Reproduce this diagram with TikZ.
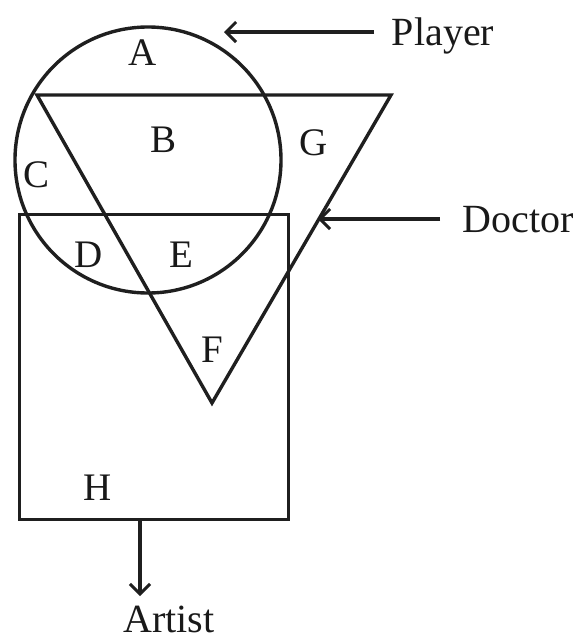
\documentclass[tikz,border=0pt]{standalone}
\usepackage{fontspec}
\setmainfont{Liberation Serif}
\usetikzlibrary{arrows.meta}
\begin{document}
\begin{tikzpicture}[x=1pt,y=-1pt,
  shape line/.style={draw=black!88,line width=3.4pt},
  lbl/.style={font=\fontsize{39}{42}\selectfont,anchor=base,inner sep=0pt,text=black!90},
  side/.style={font=\fontsize{40}{44}\selectfont,anchor=base,inner sep=0pt,text=black!90},
  pointer/.style={draw=black!88,line width=3.4pt,-{Straight Barb[length=10pt,width=20pt,line width=3pt]}}]
\useasboundingbox (0,0) rectangle (579,643);
% circle (Player)
\node[shape line,circle,minimum size=266pt,inner sep=0pt] (circ) at (148,160) {};
% triangle (Doctor)
\coordinate (t1) at (37,95);
\coordinate (t2) at (391,95);
\coordinate (t3) at (212,403);
\draw[shape line,line join=miter] (t1) -- (t2) -- (t3) -- cycle;
% rectangle (Artist)
\node[shape line,rectangle,minimum width=269pt,minimum height=305pt,inner sep=0pt,anchor=north west] (rect) at (18,213) {};
% region labels
\node[lbl] (A) at (143,65) {A};
\node[lbl] (B) at (164,152) {B};
\node[lbl] (C) at (37,187) {C};
\node[lbl] (G) at (314,155) {G};
\node[lbl] (D) at (89,267) {D};
\node[lbl] (E) at (181,267) {E};
\node[lbl] (F) at (212,362) {F};
\node[lbl] (H) at (98,500) {H};
% side labels
\node[side] (player) at (443,45) {Player};
\node[side] (doctor) at (518,232) {Doctor};
\node[side] (artist) at (169,632) {Artist};
% pointers
\coordinate (pS) at (374,32);
\coordinate (pT) at (224,32);
\draw[pointer] (pS) -- (pT);
\coordinate (dS) at (440,219);
\coordinate (dT) at (318,219);
\draw[pointer] (dS) -- (dT);
\coordinate (aS) at (rect.south -| 140,0);
\coordinate (aT) at (140,596);
\draw[pointer] (aS) -- (aT);
\end{tikzpicture}
\end{document}
